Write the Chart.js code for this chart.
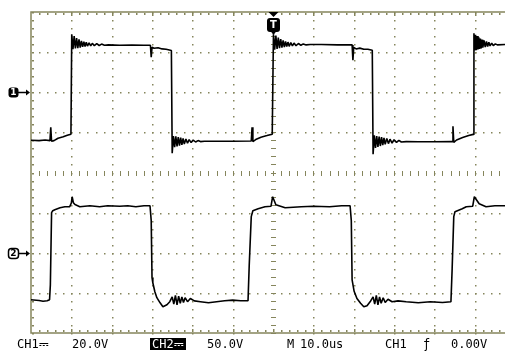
<!DOCTYPE html>
<html>
<head>
<meta charset="utf-8">
<script src="https://cdn.jsdelivr.net/npm/chart.js@4.4.1/dist/chart.umd.min.js"></script>
<style>
  body { margin: 0; background: #fff; }
  #wrap { position: relative; width: 505px; height: 352px; overflow: hidden; }
  .st { position: absolute; top: 338px; font: 12px 'DejaVu Sans Mono', monospace; line-height: 12px; color: #000; white-space: pre; }
  .inv { background: #000; color: #fff; height: 12px; padding: 0 2px; }
</style>
</head>
<body>
<div id="wrap">
  <canvas id="scope"></canvas>
  <div class="st" style="left:17px">CH1⎓</div>
  <div class="st" style="left:72px">20.0V</div>
  <div class="st inv" style="left:150px">CH2⎓</div>
  <div class="st" style="left:207px">50.0V</div>
  <div class="st" style="left:287px">M</div>
  <div class="st" style="left:300px">10.0us</div>
  <div class="st" style="left:385px">CH1</div>
  <div class="st" style="left:423px">ƒ</div>
  <div class="st" style="left:451px">0.00V</div>
</div>
<script>
// time in us (10 us/div, trigger at 0), values in volts
const ch1Time = [
  -60, -58, -56.5, -55.3, -55.1, -54.9, -54.3, -53.3, -52, -51, -50.1,
  -49.9, -49.6, -49.3, -49.0, -48.7, -48.4, -48.1, -47.8, -47.5, -47.2, -46.9, -46.6, -46.3, -46.0, -45.6, -45.2, -44.8, -44.3, -43.7, -43.1, -42.5, -41.8, -40.8,
  -38, -35, -32, -30.4, -30.2, -30.0, -29.5, -28.5, -27.5, -26.5, -25.2,
  -25.0, -24.7, -24.4, -24.1, -23.8, -23.5, -23.2, -22.9, -22.6, -22.3, -22.0, -21.6, -21.2, -20.8, -20.3, -19.8, -19.2, -18.6, -18.0, -17.0,
  -14, -10, -5.4, -5.2, -5.0, -4.3, -3, -1.5, -0.2,
  0.1, 0.4, 0.7, 1.0, 1.3, 1.6, 1.9, 2.2, 2.5, 2.8, 3.1, 3.4, 3.7, 4.0, 4.4, 4.8, 5.2, 5.7, 6.3, 6.9, 7.5, 8.2, 9.2,
  12, 16, 19.6, 19.8, 20.0, 20.6, 21.5, 22.5, 23.5, 24.6,
  24.8, 25.1, 25.4, 25.7, 26.0, 26.3, 26.6, 26.9, 27.2, 27.5, 27.8, 28.2, 28.6, 29.0, 29.5, 30.0, 30.6, 31.2, 31.8, 33.0,
  36, 40, 44.4, 44.6, 44.8, 45.5, 47, 48.5, 49.6,
  49.8, 50.0, 50.2, 50.4, 50.6, 50.8, 51.0, 51.2, 51.4, 51.6, 51.8, 52.0, 52.3, 52.6, 52.9, 53.2, 53.5, 53.8, 54.2, 54.6, 55.1, 55.6, 57.5
];
const ch1Volts = [
  -23.9, -24.1, -23.8, -24.1, -17.5, -24.4, -24.1, -22.9, -22.2, -21.4, -20.9,
  28.9, 21.5, 28.0, 21.8, 27.0, 22.0, 26.3, 22.3, 25.6, 22.6, 25.2, 22.8, 24.9, 23.0, 24.6, 23.1, 24.4, 23.2, 24.2, 23.3, 24.0, 23.4, 23.6,
  23.4, 23.5, 23.4, 23.4, 17.5, 22.4, 21.9, 22.2, 21.6, 21.4, 20.8,
  -30.4, -21.8, -27.4, -22.0, -27.0, -22.3, -26.6, -22.6, -26.2, -23.0, -25.8, -23.3, -25.4, -23.6, -25.1, -23.8, -24.8, -24.1, -24.6, -24.4,
  -24.4, -24.4, -24.3, -17.5, -24.6, -23.6, -22.4, -21.6, -20.9,
  28.9, 21.2, 28.2, 21.6, 27.2, 22.0, 26.5, 22.2, 25.8, 22.5, 25.3, 22.8, 25.0, 22.9, 24.7, 23.1, 24.5, 23.2, 24.3, 23.4, 24.1, 23.6, 23.8,
  23.8, 23.6, 23.6, 16.0, 22.4, 21.6, 22.0, 21.4, 21.4, 20.9,
  -30.9, -21.5, -27.8, -21.8, -27.2, -22.1, -26.8, -22.4, -26.4, -22.7, -26.0, -23.0, -25.6, -23.4, -25.3, -23.7, -25.0, -24.0, -24.8, -24.6,
  -24.7, -24.7, -24.6, -17.0, -25.0, -23.8, -22.6, -21.6, -21.0,
  29.4, 20.8, 28.6, 21.0, 28.0, 21.3, 27.4, 21.6, 26.8, 21.9, 26.2, 22.2, 25.8, 22.5, 25.3, 22.8, 24.9, 23.1, 24.5, 23.3, 24.1, 23.6, 23.8
];
const ch2Time = [
  -60, -58, -57, -56, -55.4, -55.2, -54.9, -54.6, -54.1, -52.8, -51.6, -50.4, -50.0, -49.8, -49.5, -49.1,
  -47.9, -45.4, -43, -41, -38, -36, -34, -32, -30.5,
  -30.2, -30.0, -29.8, -29.3, -28.8, -28.0, -27.3, -26.3, -25.6, -25.0, -24.6, -24.2, -23.8, -23.4, -23.0, -22.6, -22.2, -21.8, -21.2, -20.5, -19.5,
  -18, -16, -14, -12, -10, -8, -6.2,
  -5.9, -5.4, -5.0, -3.7, -2.0, -0.5, -0.1, 0.7, 3, 7, 10, 14, 17, 19.1,
  19.4, 19.6, 20.1, 20.8, 21.7, 22.5, 23.3, 24.2, 24.8, 25.2, 25.6, 26.0, 26.4, 26.8, 27.3, 27.8, 28.5, 29.5,
  31, 33, 36, 39, 42, 44.1,
  44.4, 44.8, 45.1, 46.9, 47.9, 49.5, 49.9, 51.1, 52.8, 55, 57.5
];
const ch2Volts = [
  -58.6, -59.5, -60.5, -59.9, -58.6, -40, 49.9, 52.4, 53.6, 56.1, 57.4, 57.4, 62, 69.8, 62.4, 60,
  57.4, 58.6, 57.4, 58.6, 58, 58.6, 57.4, 58.6, 58.6,
  40, -31, -37.4, -48.6, -56, -62.4, -67.3, -64.8, -61, -55, -64, -53, -65, -54, -63, -55, -62, -56, -61, -57, -60,
  -61, -62.4, -61, -59.9, -59, -59.9, -59.9,
  -15, 45, 52.4, 54.9, 57.4, 58, 69.8, 59.9, 56.1, 57.4, 58, 57.4, 58.6, 58.6,
  40, -33.7, -48, -57, -63, -67.3, -66, -60, -55, -64, -53, -65, -55, -63, -56, -62, -58, -61,
  -60, -61.1, -62.4, -61.1, -62, -61.1,
  -20, 45, 51.1, 54.9, 57.4, 58, 69.8, 61, 57.4, 58.6, 58.6
];

// channel settings from the status line: V/div and marker position in divisions
const ch1VoltsPerDiv = 20, ch1Pos = 2;
const ch2VoltsPerDiv = 50, ch2Pos = -2;

const gridColor = '#85855c';

function toPoints(t, v, vdiv, pos) {
  return t.map((x, i) => ({ x: x, y: pos + v[i] / vdiv }));
}

const scopeGrid = {
  id: 'scopeGrid',
  beforeDatasetsDraw(chart) {
    const ctx = chart.ctx, a = chart.chartArea, x = chart.scales.x, y = chart.scales.y;
    ctx.save();
    ctx.fillStyle = gridColor;
    // vertical dotted lines every division
    for (let d = -5; d <= 5; d++) {
      const px = Math.round(x.getPixelForValue(d * 10));
      for (let m = -20; m <= 20; m++) {
        const py = Math.round(y.getPixelForValue(m / 5));
        if (d == 0) ctx.fillRect(px - 2, py, 5, 1);
        else ctx.fillRect(px, py, 1.5, 1.5);
      }
    }
    // horizontal dotted lines every division
    for (let r = -3; r <= 3; r++) {
      const py = Math.round(y.getPixelForValue(r));
      for (let m = -30; m <= 30; m++) {
        const px = Math.round(x.getPixelForValue(m * 2));
        if (px <= a.left) continue;
        if (r == 0) ctx.fillRect(px, py - 2, 1, 5);
        else ctx.fillRect(px, py, 1.5, 1.5);
      }
    }
    // frame with small ticks
    ctx.strokeStyle = gridColor;
    ctx.lineWidth = 1.5;
    ctx.beginPath();
    ctx.moveTo(a.right + 2, a.top);
    ctx.lineTo(a.left, a.top);
    ctx.lineTo(a.left, a.bottom);
    ctx.lineTo(a.right + 2, a.bottom);
    ctx.stroke();
    for (let m = -30; m <= 30; m++) {
      const px = Math.round(x.getPixelForValue(m * 2));
      if (px <= a.left) continue;
      const h = m % 5 == 0 ? 3 : 2;
      ctx.fillRect(px, a.top + 1, 1.5, h);
      ctx.fillRect(px, a.bottom - 1 - h, 1.5, h);
    }
    for (let m = -20; m <= 20; m++) {
      const py = Math.round(y.getPixelForValue(m / 5));
      ctx.fillRect(a.left + 1, py, 2, 1.5);
    }
    ctx.restore();
  },
  afterDatasetsDraw(chart) {
    const ctx = chart.ctx, a = chart.chartArea, x = chart.scales.x, y = chart.scales.y;
    ctx.save();
    ctx.fillStyle = '#000';
    ctx.strokeStyle = '#000';
    ctx.textAlign = 'center';
    ctx.textBaseline = 'middle';
    ctx.font = 'bold 9px "DejaVu Sans"';
    // channel markers
    [[ch1Pos, '1', true], [ch2Pos, '2', false]].forEach(function (m) {
      const py = Math.round(y.getPixelForValue(m[0])) + 0.5;
      ctx.beginPath();
      ctx.roundRect(8.5, py - 5, 10, 10, 3);
      if (m[2]) { ctx.fill(); } else { ctx.lineWidth = 1.5; ctx.stroke(); }
      ctx.fillStyle = m[2] ? '#fff' : '#000';
      ctx.fillText(m[1], 13.5, py + 0.5);
      ctx.fillStyle = '#000';
      ctx.lineWidth = 1.5;
      ctx.beginPath();
      ctx.moveTo(18, py);
      ctx.lineTo(27, py);
      ctx.stroke();
      ctx.beginPath();
      ctx.moveTo(26, py - 3);
      ctx.lineTo(30, py);
      ctx.lineTo(26, py + 3);
      ctx.closePath();
      ctx.fill();
    });
    // trigger position marker
    const tx = Math.round(x.getPixelForValue(0)) + 0.5;
    ctx.beginPath();
    ctx.moveTo(tx - 5, a.top);
    ctx.lineTo(tx + 5, a.top);
    ctx.lineTo(tx, a.top + 5);
    ctx.closePath();
    ctx.fill();
    ctx.beginPath();
    ctx.roundRect(tx - 6.5, a.top + 6, 13, 14, 3);
    ctx.fill();
    ctx.beginPath();
    ctx.moveTo(tx - 3, a.top + 19);
    ctx.lineTo(tx + 3, a.top + 19);
    ctx.lineTo(tx, a.top + 23);
    ctx.closePath();
    ctx.fill();
    ctx.fillStyle = '#fff';
    ctx.font = 'bold 10px "DejaVu Sans"';
    ctx.fillText('T', tx, a.top + 13.5);
    ctx.restore();
  }
};

const ctx = document.getElementById('scope').getContext('2d');
const scopeChart = new Chart(ctx, {
  type: 'line',
  data: {
    datasets: [
      {
        label: 'CH1',
        data: toPoints(ch1Time, ch1Volts, ch1VoltsPerDiv, ch1Pos),
        borderColor: '#000',
        borderWidth: 1.6,
        borderJoinStyle: 'bevel',
        pointRadius: 0,
        tension: 0
      },
      {
        label: 'CH2',
        data: toPoints(ch2Time, ch2Volts, ch2VoltsPerDiv, ch2Pos),
        borderColor: '#000',
        borderWidth: 1.6,
        borderJoinStyle: 'bevel',
        pointRadius: 0,
        tension: 0
      }
    ]
  },
  options: {
    responsive: true,
    maintainAspectRatio: false,
    animation: false,
    events: [],
    layout: { padding: { left: 31, top: 12, right: 0, bottom: 19 } },
    plugins: {
      legend: { display: false },
      tooltip: { enabled: false }
    },
    scales: {
      x: { type: 'linear', min: -60, max: 57.5, display: false },
      y: { type: 'linear', min: -4, max: 4, display: false }
    }
  },
  plugins: [scopeGrid]
});
</script>
</body>
</html>
